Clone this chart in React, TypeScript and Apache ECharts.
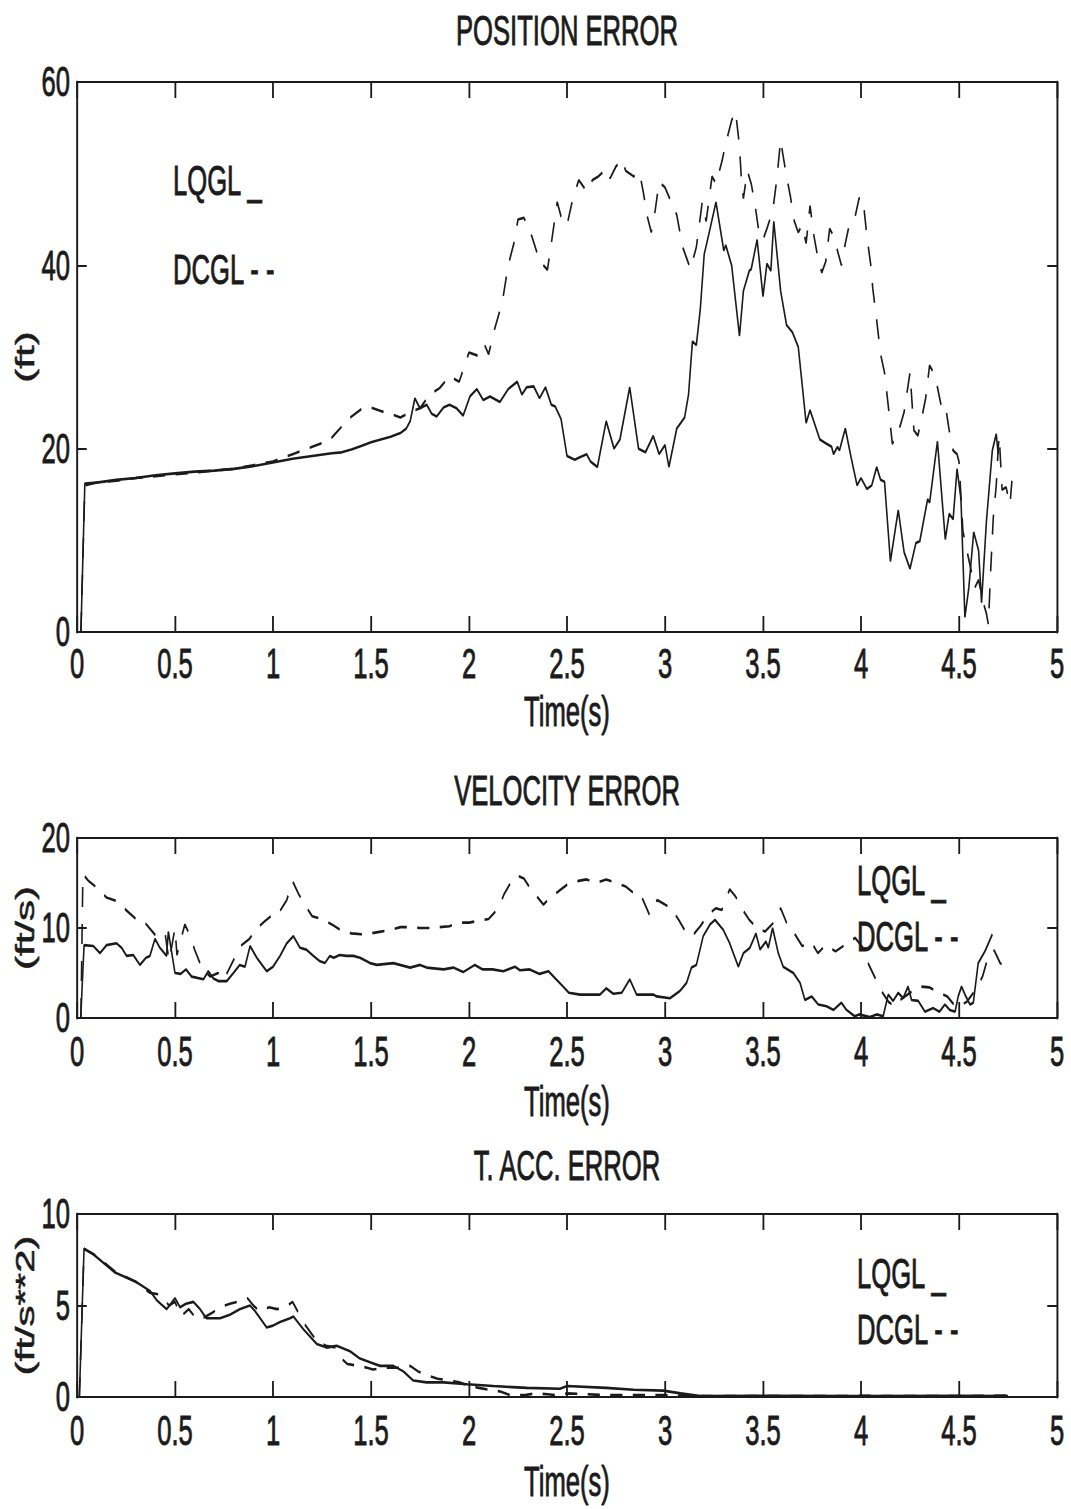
import React, { useEffect, useRef } from "react";
import * as echarts from "echarts";

// ---- data: [time (s), error] ----
const POS_LQGL: number[][] = [
  [0.02, 0], [0.04, 16.2], [0.1, 16.3], [0.2, 16.6], [0.3, 16.8], [0.4, 17.1], [0.5, 17.3], [0.6, 17.5],
  [0.7, 17.6], [0.8, 17.8], [0.9, 18.1], [1.0, 18.5], [1.1, 18.9], [1.2, 19.2], [1.3, 19.5], [1.35, 19.6],
  [1.4, 19.9], [1.45, 20.3], [1.5, 20.7], [1.55, 21.0], [1.6, 21.3], [1.65, 21.7], [1.68, 22.2], [1.7, 23.0],
  [1.724, 25.5], [1.75, 24.4], [1.784, 24.8], [1.81, 23.8], [1.835, 23.5], [1.87, 24.5], [1.9, 24.8],
  [1.937, 24.4], [1.97, 23.6], [2.005, 25.7], [2.04, 26.5], [2.073, 25.3], [2.107, 25.7], [2.158, 25.1],
  [2.2, 26.5], [2.246, 27.3], [2.27, 25.9], [2.294, 26.7], [2.33, 26.8], [2.36, 25.5], [2.39, 26.7],
  [2.42, 24.8], [2.44, 24.6], [2.47, 23.2], [2.5, 19.2], [2.54, 18.8], [2.56, 19.0], [2.6, 19.4],
  [2.62, 18.6], [2.655, 18.0], [2.7, 23.0], [2.74, 20.0], [2.77, 21.0], [2.82, 26.7], [2.865, 20.0],
  [2.9, 19.6], [2.94, 21.4], [2.97, 19.4], [3.0, 20.4], [3.02, 18.0], [3.06, 22.2], [3.1, 23.4],
  [3.12, 25.9], [3.14, 31.7], [3.16, 31.3], [3.18, 35.2], [3.2, 41.2], [3.23, 44.0], [3.26, 46.9],
  [3.3, 41.6], [3.31, 42.2], [3.34, 40.0], [3.38, 32.3], [3.4, 37.2], [3.43, 39.4], [3.44, 39.6],
  [3.47, 42.8], [3.5, 36.6], [3.52, 40.2], [3.54, 39.4], [3.555, 44.8], [3.59, 37.2], [3.62, 33.5],
  [3.65, 32.7], [3.68, 31.1], [3.72, 22.8], [3.74, 24.2], [3.79, 21.0], [3.82, 20.6], [3.85, 20.2],
  [3.86, 19.4], [3.88, 20.2], [3.89, 19.8], [3.92, 22.2], [3.95, 19.0], [3.98, 16.0], [4.0, 16.8],
  [4.03, 15.6], [4.055, 16.0], [4.08, 18.0], [4.1, 16.6], [4.12, 16.4], [4.15, 7.7], [4.19, 13.3],
  [4.22, 8.7], [4.25, 6.9], [4.28, 9.7], [4.3, 9.9], [4.34, 14.5], [4.35, 14.1], [4.39, 20.8],
  [4.43, 10.1], [4.45, 12.9], [4.47, 12.3], [4.49, 17.8], [4.51, 14.5], [4.53, 1.6], [4.55, 4.8],
  [4.575, 10.9], [4.6, 8.9], [4.615, 3.2], [4.64, 12.1], [4.67, 19.8], [4.69, 21.6], [4.7, 19.4],
];

const POS_DCGL: number[][] = [
  [0.02, 0], [0.04, 16.0], [0.1, 16.3], [0.2, 16.5], [0.3, 16.8], [0.4, 17.0], [0.5, 17.2], [0.6, 17.4],
  [0.7, 17.6], [0.8, 17.8], [0.9, 18.2], [1.0, 18.6], [1.1, 19.4], [1.2, 20.2], [1.25, 20.6], [1.3, 21.2],
  [1.35, 22.4], [1.4, 23.5], [1.45, 24.3], [1.5, 24.5], [1.55, 24.1], [1.6, 23.8], [1.65, 23.4],
  [1.7, 24.0], [1.75, 24.4], [1.8, 25.9], [1.85, 26.6], [1.9, 27.9], [1.95, 27.3], [2.0, 30.5],
  [2.05, 30.1], [2.08, 31.3], [2.1, 30.3], [2.13, 33.0], [2.17, 36.0], [2.2, 40.0], [2.23, 42.5],
  [2.25, 45.0], [2.28, 45.2], [2.32, 43.2], [2.36, 40.5], [2.4, 39.5], [2.42, 42.4], [2.45, 46.9],
  [2.47, 45.3], [2.5, 44.4], [2.53, 47.3], [2.56, 49.3], [2.6, 48.1], [2.63, 49.3], [2.66, 49.7],
  [2.7, 50.5], [2.72, 49.5], [2.75, 50.8], [2.78, 51.5], [2.8, 50.3], [2.84, 49.7], [2.87, 50.1],
  [2.89, 47.9], [2.91, 45.3], [2.93, 43.6], [2.95, 46.0], [2.97, 49.1], [3.0, 48.5], [3.03, 47.0],
  [3.06, 45.5], [3.09, 42.0], [3.11, 40.8], [3.13, 39.6], [3.16, 42.0], [3.19, 46.9], [3.21, 44.8],
  [3.24, 49.7], [3.26, 48.9], [3.29, 51.3], [3.31, 53.3], [3.34, 55.8], [3.36, 56.8], [3.38, 53.0],
  [3.39, 49.3], [3.4, 47.3], [3.42, 50.3], [3.44, 48.9], [3.46, 46.5], [3.48, 43.5], [3.5, 42.8],
  [3.52, 44.0], [3.55, 46.0], [3.57, 49.3], [3.59, 53.7], [3.6, 52.3], [3.62, 49.7], [3.64, 47.5],
  [3.66, 44.8], [3.68, 43.6], [3.7, 44.4], [3.72, 42.4], [3.74, 46.5], [3.76, 43.2], [3.78, 40.8],
  [3.8, 39.2], [3.82, 40.4], [3.84, 44.0], [3.86, 43.2], [3.88, 41.6], [3.9, 40.0], [3.92, 42.4],
  [3.94, 44.4], [3.97, 45.3], [3.99, 47.3], [4.01, 47.3], [4.03, 43.2], [4.05, 40.0], [4.06, 37.5],
  [4.08, 34.0], [4.1, 30.3], [4.12, 28.3], [4.14, 24.5], [4.16, 20.5], [4.18, 21.5], [4.2, 22.5],
  [4.22, 24.0], [4.25, 28.3], [4.27, 22.0], [4.29, 21.4], [4.31, 23.4], [4.33, 25.5], [4.35, 29.1],
  [4.37, 28.3], [4.39, 26.7], [4.41, 24.6], [4.43, 24.8], [4.45, 22.0], [4.47, 19.8], [4.49, 19.4],
  [4.5, 18.6], [4.52, 11.0], [4.54, 8.9], [4.56, 6.9], [4.58, 4.8], [4.6, 5.7], [4.62, 3.5],
  [4.64, 2.0], [4.65, 0.8], [4.66, 6.0], [4.675, 12.5], [4.69, 16.0], [4.7, 20.0], [4.705, 21.4],
  [4.72, 15.5], [4.74, 15.8], [4.76, 13.9], [4.77, 16.5],
];

const VEL_LQGL: number[][] = [
  [0.019, 0], [0.036, 8.1], [0.083, 8.0], [0.117, 7.2], [0.151, 8.1], [0.202, 8.3], [0.228, 7.8],
  [0.253, 6.9], [0.287, 7.0], [0.321, 5.9], [0.352, 6.7], [0.372, 6.9], [0.398, 8.8], [0.423, 7.8],
  [0.457, 6.9], [0.466, 9.6], [0.5, 5.0], [0.529, 4.9], [0.556, 5.4], [0.585, 4.6], [0.645, 4.3],
  [0.67, 5.2], [0.696, 4.4], [0.721, 4.1], [0.764, 4.1], [0.798, 5.0], [0.83, 5.9], [0.857, 5.7],
  [0.883, 8.0], [0.917, 6.7], [0.968, 5.2], [1.0, 5.7], [1.036, 6.9], [1.07, 8.3], [1.104, 9.1],
  [1.138, 7.8], [1.17, 7.6], [1.206, 6.9], [1.24, 6.3], [1.265, 6.1], [1.29, 6.9], [1.31, 6.7],
  [1.34, 7.0], [1.376, 6.9], [1.41, 6.9], [1.444, 6.7], [1.495, 6.1], [1.53, 5.9], [1.614, 6.1],
  [1.7, 5.6], [1.75, 5.9], [1.784, 5.6], [1.87, 5.4], [1.92, 5.6], [1.97, 5.1], [2.03, 5.9],
  [2.07, 5.4], [2.12, 5.4], [2.175, 5.2], [2.235, 5.7], [2.26, 5.3], [2.31, 5.4], [2.36, 4.9],
  [2.405, 5.2], [2.44, 4.4], [2.48, 3.5], [2.51, 2.8], [2.566, 2.6], [2.668, 2.6], [2.7, 3.3],
  [2.736, 2.7], [2.779, 2.8], [2.82, 4.3], [2.855, 2.6], [2.94, 2.6], [2.958, 2.4], [3.025, 2.2],
  [3.076, 3.0], [3.11, 3.9], [3.135, 5.6], [3.16, 5.9], [3.195, 9.1], [3.23, 10.4], [3.255, 10.9],
  [3.297, 9.8], [3.33, 8.3], [3.374, 5.7], [3.4, 7.2], [3.433, 7.8], [3.464, 9.4], [3.485, 7.6],
  [3.515, 8.5], [3.527, 7.8], [3.549, 10.0], [3.578, 7.2], [3.603, 5.7], [3.655, 5.0], [3.689, 3.9],
  [3.714, 2.0], [3.748, 2.4], [3.782, 1.5], [3.824, 1.3], [3.86, 0.9], [3.9, 1.7], [3.926, 0.9],
  [3.968, 0.2], [3.99, 0.4], [4.045, 0.1], [4.08, 0.4], [4.113, 0.2], [4.139, 2.6], [4.164, 1.9],
  [4.19, 2.8], [4.215, 2.2], [4.24, 3.5], [4.258, 2.0], [4.292, 1.9], [4.326, 0.7], [4.369, 1.1],
  [4.4, 0.7], [4.428, 1.5], [4.453, 0.9], [4.48, 0.7], [4.496, 2.4], [4.513, 3.5], [4.535, 2.4],
  [4.556, 1.5], [4.573, 1.7], [4.598, 6.1], [4.632, 7.4], [4.67, 9.3],
];

const VEL_DCGL: number[][] = [
  [0.02, 0], [0.03, 16.0], [0.06, 15.2], [0.1, 14.5], [0.15, 13.4], [0.2, 13.0], [0.25, 12.0],
  [0.3, 11.0], [0.35, 10.5], [0.4, 9.2], [0.45, 9.3], [0.47, 6.3], [0.5, 10.0], [0.51, 7.0],
  [0.55, 10.4], [0.58, 9.0], [0.6, 7.6], [0.64, 5.4], [0.68, 4.6], [0.72, 5.0], [0.75, 4.3],
  [0.8, 6.5], [0.84, 8.1], [0.88, 8.8], [0.92, 10.0], [0.96, 10.8], [1.0, 11.5], [1.03, 11.7],
  [1.07, 13.1], [1.1, 15.2], [1.13, 13.8], [1.17, 12.3], [1.2, 11.3], [1.25, 11.0], [1.3, 10.4],
  [1.35, 9.7], [1.4, 9.4], [1.45, 9.3], [1.5, 9.4], [1.55, 9.6], [1.6, 9.8], [1.65, 10.1], [1.7, 10.1],
  [1.75, 10.0], [1.8, 10.0], [1.85, 10.1], [1.9, 10.2], [1.95, 10.6], [2.0, 10.6], [2.05, 10.8],
  [2.1, 11.0], [2.15, 12.2], [2.18, 13.8], [2.22, 15.3], [2.25, 15.8], [2.28, 15.5], [2.31, 14.5],
  [2.35, 13.4], [2.38, 12.6], [2.41, 13.3], [2.44, 13.8], [2.47, 14.3], [2.5, 14.8], [2.55, 15.2],
  [2.6, 15.4], [2.65, 15.0], [2.7, 15.4], [2.75, 15.0], [2.8, 14.6], [2.84, 13.9], [2.88, 13.5],
  [2.92, 11.5], [2.96, 13.1], [3.0, 12.6], [3.03, 12.2], [3.07, 10.9], [3.11, 9.4], [3.15, 9.4],
  [3.18, 10.2], [3.22, 11.5], [3.26, 12.2], [3.29, 12.0], [3.33, 14.3], [3.36, 13.5], [3.4, 11.9],
  [3.43, 10.9], [3.47, 10.0], [3.51, 9.6], [3.55, 10.5], [3.59, 12.2], [3.62, 10.6], [3.66, 9.4],
  [3.7, 8.0], [3.75, 8.3], [3.78, 7.2], [3.82, 8.1], [3.87, 7.4], [3.93, 8.3], [3.97, 8.9],
  [4.01, 7.8], [4.04, 5.9], [4.08, 4.1], [4.11, 2.8], [4.14, 1.8], [4.17, 1.3], [4.2, 2.0],
  [4.25, 2.8], [4.3, 3.5], [4.35, 3.4], [4.4, 2.8], [4.44, 2.4], [4.47, 1.6], [4.5, 1.3], [4.54, 1.8],
  [4.58, 3.0], [4.62, 4.6], [4.65, 6.9], [4.68, 7.5], [4.71, 6.1], [4.73, 5.8],
];

const ACC_LQGL: number[][] = [
  [0.012, 0], [0.036, 8.1], [0.083, 7.8], [0.194, 6.8], [0.3, 6.3], [0.372, 5.8], [0.406, 5.3],
  [0.457, 4.8], [0.5, 5.4], [0.526, 4.9], [0.556, 5.1], [0.594, 5.2], [0.628, 4.8], [0.66, 4.3],
  [0.73, 4.3], [0.78, 4.5], [0.83, 4.8], [0.857, 4.9], [0.883, 5.0], [0.908, 4.7], [0.968, 3.8],
  [1.0, 3.9], [1.036, 4.1], [1.087, 4.3], [1.104, 4.4], [1.155, 3.7], [1.223, 2.9], [1.274, 2.7],
  [1.325, 2.8], [1.393, 2.5], [1.444, 2.1], [1.495, 1.9], [1.546, 1.7], [1.614, 1.7], [1.665, 1.4],
  [1.716, 0.9], [1.784, 0.8], [1.87, 0.8], [1.99, 0.7], [2.124, 0.6], [2.294, 0.5], [2.464, 0.45],
  [2.5, 0.6], [2.7, 0.5], [2.84, 0.4], [2.99, 0.35], [3.08, 0.2], [3.18, 0.05], [3.5, 0.06],
  [4.0, 0.05], [4.5, 0.06], [4.75, 0.05],
];

const ACC_DCGL: number[][] = [
  [0.012, 0], [0.036, 8.1], [0.1, 7.7], [0.2, 6.8], [0.3, 6.3], [0.37, 5.7], [0.42, 5.6], [0.47, 5.0],
  [0.5, 5.2], [0.53, 4.4], [0.57, 4.8], [0.6, 4.4], [0.64, 4.3], [0.69, 4.6], [0.73, 4.9], [0.78, 5.1],
  [0.82, 5.2], [0.87, 5.4], [0.9, 5.0], [0.93, 4.7], [0.98, 4.9], [1.02, 4.8], [1.06, 4.9], [1.1, 5.2],
  [1.13, 4.6], [1.16, 4.0], [1.2, 3.4], [1.23, 3.0], [1.27, 2.8], [1.32, 2.7], [1.35, 2.1], [1.38, 1.8],
  [1.44, 1.7], [1.48, 1.6], [1.51, 1.5], [1.57, 1.6], [1.62, 1.6], [1.66, 1.6], [1.7, 1.7], [1.74, 1.4],
  [1.78, 1.2], [1.84, 1.0], [1.9, 0.9], [1.95, 0.8], [2.0, 0.6], [2.05, 0.5], [2.1, 0.4], [2.16, 0.3],
  [2.21, 0.1], [2.28, 0.1], [2.34, 0.2], [2.4, 0.15], [2.45, 0.1], [2.5, 0.2], [2.6, 0.15], [2.7, 0.1],
  [2.8, 0.1], [3.0, 0.1], [3.2, 0.05], [3.5, 0.05], [4.0, 0.06], [4.5, 0.05], [4.75, 0.08],
];

const TITLES = ["POSITION ERROR", "VELOCITY ERROR", "T. ACC. ERROR"];
const Y_NAMES = ["(ft)", "(ft/s)", "(ft/s**2)"];
const Y_MAX = [60, 20, 10];
const Y_STEP = [20, 10, 5];
const X_MAX = 5;
const X_STEP = 0.5;
const X_NAME = "Time(s)";
const LEGEND_TEXT = ["LQGL _", "DCGL - -"];
const SERIES_DATA = [
  [POS_LQGL, POS_DCGL],
  [VEL_LQGL, VEL_DCGL],
  [ACC_LQGL, ACC_DCGL],
];

// ---- layout ----
// The figure is drawn wide and squeezed horizontally, giving the tall, narrow lettering of the plot.
const SX = 0.61;
const PAGE_W = 1071;
const PAGE_H = 1509;
const W = PAGE_W / SX;
const px = (x: number) => x / SX;

const LEFT = 77;
const RIGHT = 1057;
const PANELS = [
  { top: 82, bottom: 632, titleTop: 9, labelGap: 10, nameGap: 58, legendX: 173, legendY: [181, 270] },
  { top: 838, bottom: 1018, titleTop: 769, labelGap: 12, nameGap: 62, legendX: 857, legendY: [881, 937] },
  { top: 1214, bottom: 1397, titleTop: 1144, labelGap: 12, nameGap: 63, legendX: 857, legendY: [1274, 1330] },
];

const FONT = "'Liberation Sans', Arial, Helvetica, sans-serif";
const INK = "#1b1b1b";
const FS = 42;
// a thin outline in the same ink gives the lettering a heavier stroke
const TEXT_WEIGHT = { textBorderColor: INK, textBorderWidth: 0.9 };

function buildOption() {
  const grid: any[] = [];
  const xAxis: any[] = [];
  const yAxis: any[] = [];
  const series: any[] = [];
  const title: any[] = [];
  const graphic: any[] = [];

  const textStyle = { fontFamily: FONT, fontSize: FS, color: INK, ...TEXT_WEIGHT };

  PANELS.forEach((p, i) => {
    grid.push({
      left: px(LEFT),
      top: p.top,
      width: px(RIGHT) - px(LEFT),
      height: p.bottom - p.top,
      show: false,
    });

    const xBase = {
      type: "value",
      gridIndex: i,
      min: 0,
      max: X_MAX,
      interval: X_STEP,
      splitLine: { show: false },
      axisLine: { show: true, onZero: false, lineStyle: { color: INK, width: 2 } },
      axisTick: { show: true, inside: true, length: 16, lineStyle: { color: INK, width: 3 } },
    };
    xAxis.push({
      ...xBase,
      position: "bottom",
      name: X_NAME,
      nameLocation: "middle",
      nameGap: p.nameGap,
      nameMoveOverlap: false,
      nameTextStyle: textStyle,
      axisLabel: { show: true, margin: p.labelGap, ...textStyle },
    });
    xAxis.push({ ...xBase, position: "top", axisLabel: { show: false } });

    const yBase = {
      type: "value",
      gridIndex: i,
      min: 0,
      max: Y_MAX[i],
      interval: Y_STEP[i],
      splitLine: { show: false },
      axisLine: { show: true, onZero: false, lineStyle: { color: INK, width: 3.2 } },
      axisTick: { show: true, inside: true, length: 16, lineStyle: { color: INK, width: 2 } },
    };
    yAxis.push({
      ...yBase,
      position: "left",
      name: Y_NAMES[i],
      nameLocation: "middle",
      nameRotate: 90,
      nameGap: 64,
      nameMoveOverlap: false,
      nameTextStyle: textStyle,
      axisLabel: { show: true, margin: 11.5, ...textStyle },
    });
    yAxis.push({ ...yBase, position: "right", axisLabel: { show: false } });

    const [lq, dc] = SERIES_DATA[i];
    series.push({
      name: "LQGL",
      type: "line",
      xAxisIndex: 2 * i,
      yAxisIndex: 2 * i,
      data: lq,
      showSymbol: false,
      symbol: "none",
      lineStyle: { color: INK, width: 2.6, type: "solid" },
      z: 3,
    });
    series.push({
      name: "DCGL",
      type: "line",
      xAxisIndex: 2 * i,
      yAxisIndex: 2 * i,
      data: dc,
      showSymbol: false,
      symbol: "none",
      lineStyle: { color: INK, width: 2.6, type: [20, 17] },
      z: 2,
    });

    title.push({
      text: TITLES[i],
      left: px((LEFT + RIGHT) / 2),
      top: p.titleTop,
      textAlign: "center",
      padding: 0,
      textStyle: { ...textStyle, fontWeight: "normal" },
    });

    LEGEND_TEXT.forEach((t, k) => {
      graphic.push({
        type: "text",
        x: px(p.legendX),
        y: p.legendY[k],
        silent: true,
        style: {
          text: t,
          fontFamily: FONT,
          fontSize: FS,
          fill: INK,
          stroke: INK,
          lineWidth: 0.9,
          align: "left",
          verticalAlign: "middle",
        },
      });
    });
  });

  return {
    animation: false,
    backgroundColor: "#ffffff",
    title,
    grid,
    xAxis,
    yAxis,
    series,
    graphic,
  };
}

export default function App() {
  const ref = useRef<HTMLDivElement>(null);

  useEffect(() => {
    if (!ref.current) return;
    const chart = echarts.init(ref.current, undefined, { renderer: "svg" });
    chart.setOption(buildOption() as any);
    return () => {
      chart.dispose();
    };
  }, []);

  return (
    <div
      style={{
        position: "absolute",
        left: 0,
        top: 0,
        width: PAGE_W,
        height: PAGE_H,
        overflow: "hidden",
        background: "#ffffff",
      }}
    >
      <div
        ref={ref}
        style={{
          width: W,
          height: PAGE_H,
          transform: `scaleX(${SX})`,
          transformOrigin: "0 0",
        }}
      />
    </div>
  );
}
